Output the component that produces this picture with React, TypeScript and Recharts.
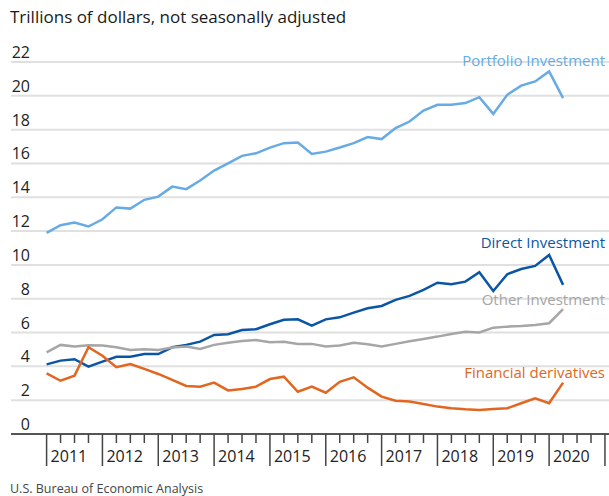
import React from "react";
import { LineChart, Line, XAxis, YAxis, CartesianGrid } from "recharts";

// quarter-end positions, 2010 Q4 .. 2020 Q1
const quarters = [
  "2010Q4",
  "2011Q1", "2011Q2", "2011Q3", "2011Q4",
  "2012Q1", "2012Q2", "2012Q3", "2012Q4",
  "2013Q1", "2013Q2", "2013Q3", "2013Q4",
  "2014Q1", "2014Q2", "2014Q3", "2014Q4",
  "2015Q1", "2015Q2", "2015Q3", "2015Q4",
  "2016Q1", "2016Q2", "2016Q3", "2016Q4",
  "2017Q1", "2017Q2", "2017Q3", "2017Q4",
  "2018Q1", "2018Q2", "2018Q3", "2018Q4",
  "2019Q1", "2019Q2", "2019Q3", "2019Q4",
  "2020Q1",
];

const portfolio = [
  11.9, 12.35, 12.5, 12.27, 12.7, 13.4, 13.33, 13.85, 14.04, 14.63, 14.48, 14.99,
  15.58, 16.0, 16.45, 16.6, 16.94, 17.2, 17.24, 16.56, 16.7, 16.94, 17.2, 17.56,
  17.44, 18.09, 18.48, 19.13, 19.47, 19.47, 19.57, 19.92, 18.93, 20.06, 20.6, 20.85,
  21.44, 19.86,
];
const direct = [
  4.12, 4.34, 4.42, 3.98, 4.28, 4.57, 4.57, 4.73, 4.73, 5.13, 5.27, 5.46, 5.86,
  5.9, 6.15, 6.2, 6.49, 6.75, 6.78, 6.41, 6.78, 6.9, 7.18, 7.44, 7.57, 7.93, 8.17,
  8.52, 8.95, 8.86, 9.01, 9.57, 8.46, 9.45, 9.76, 9.94, 10.59, 8.82,
];
const other = [
  4.83, 5.27, 5.17, 5.25, 5.23, 5.13, 4.97, 5.01, 4.97, 5.11, 5.17, 5.03, 5.27,
  5.4, 5.5, 5.56, 5.43, 5.46, 5.33, 5.33, 5.17, 5.23, 5.4, 5.31, 5.17, 5.33, 5.48,
  5.62, 5.76, 5.92, 6.05, 6.01, 6.29, 6.35, 6.39, 6.45, 6.55, 7.38,
];
const derivatives = [
  3.59, 3.15, 3.45, 5.13, 4.63, 3.95, 4.14, 3.85, 3.55, 3.2, 2.84, 2.8, 3.04,
  2.58, 2.66, 2.8, 3.25, 3.39, 2.5, 2.8, 2.44, 3.09, 3.35, 2.74, 2.21, 1.97, 1.92,
  1.78, 1.62, 1.52, 1.46, 1.42, 1.48, 1.52, 1.82, 2.11, 1.82, 3.04,
];

const years = ["2011", "2012", "2013", "2014", "2015", "2016", "2017", "2018", "2019", "2020"];
const yTicks = [0, 2, 4, 6, 8, 10, 12, 14, 16, 18, 20, 22];

const data = quarters.map((label, i) => ({
  q: i,
  label,
  portfolio: portfolio[i],
  direct: direct[i],
  other: other[i],
  derivatives: derivatives[i],
}));

const xTicks = Array.from({ length: years.length * 4 + 1 }, (_, i) => i);

const FONT = "'Open Sans', sans-serif";

const series = [
  { key: "portfolio", name: "Portfolio Investment", color: "#66abe6", dy: -36 },
  { key: "direct", name: "Direct Investment", color: "#0b55a6", dy: -41 },
  { key: "other", name: "Other Investment", color: "#a6a6a6", dy: -8 },
  { key: "derivatives", name: "Financial derivatives", color: "#e2661f", dy: -9 },
];

const XTick = (props: any) => {
  const { x, y, payload } = props;
  const v = payload.value;
  const major = v % 4 === 0;
  const year = years[v / 4];
  return (
    <g>
      <line x1={x} x2={x} y1={y} y2={y + (major ? 32 : 9)} stroke="#444" strokeWidth={1.5} />
      {major && year && (
        <text x={x + 4} y={y + 28} fill="#222" fontSize={16} fontFamily={FONT}>
          {year}
        </text>
      )}
    </g>
  );
};

const YTick = (props: any) => {
  const { y, payload } = props;
  return (
    <text x={30} y={y - 4} textAnchor="end" fill="#222" fontSize={16} fontFamily={FONT}>
      {payload.value}
    </text>
  );
};

const makeLabel = (name: string, color: string, dy: number) => (props: any) => {
  const { y, index } = props;
  if (index !== data.length - 1) return null;
  return (
    <text x={605} y={y + dy} textAnchor="end" fill={color} fontSize={15} fontFamily={FONT} dominantBaseline="middle">
      {name}
    </text>
  );
};

export default function App() {
  return (
    <div style={{ position: "absolute", left: 0, top: 0, width: 609, height: 496, background: "#fff", fontFamily: FONT }}>
      <div style={{ position: "absolute", left: 10, top: 5, fontSize: 17, lineHeight: "24px", color: "#1a1a1a" }}>
        Trillions of dollars, not seasonally adjusted
      </div>
      <LineChart
        width={609}
        height={496}
        data={data}
        margin={{ top: 62, right: 0, bottom: 0, left: 0 }}
      >
        <CartesianGrid horizontal vertical={false} stroke="#e0e0e0" strokeWidth={2} />
        <XAxis
          type="number"
          dataKey="q"
          domain={[-2.55, 40.29]}
          allowDataOverflow
          ticks={xTicks}
          interval={0}
          tick={<XTick />}
          tickLine={false}
          tickSize={0}
          tickMargin={0}
          height={62}
          axisLine={{ stroke: "#555", strokeWidth: 2 }}
        />
        <YAxis
          type="number"
          domain={[0, 22]}
          ticks={yTicks}
          width={11}
          axisLine={false}
          tickLine={false}
          tick={<YTick />}
          interval={0}
        />
        {series.map((s) => (
          <Line
            key={s.key}
            type="linear"
            dataKey={s.key}
            stroke={s.color}
            strokeWidth={2.5}
            dot={false}
            isAnimationActive={false}
            label={makeLabel(s.name, s.color, s.dy)}
          />
        ))}
      </LineChart>
      <div style={{ position: "absolute", left: 10, top: 482, fontSize: 12.5, lineHeight: "14px", color: "#444" }}>
        U.S. Bureau of Economic Analysis
      </div>
    </div>
  );
}
